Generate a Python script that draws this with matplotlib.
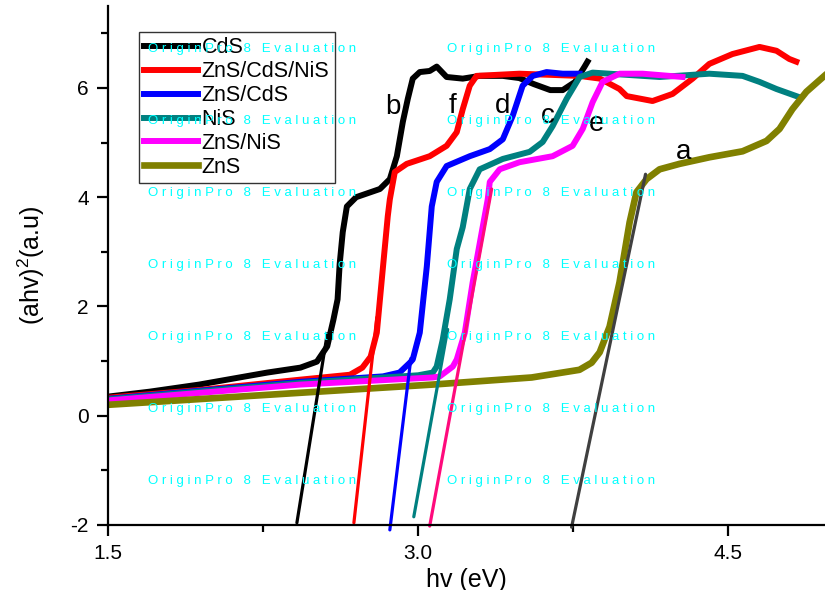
import matplotlib
matplotlib.use('Agg')
import matplotlib.pyplot as plt

plt.rcParams['font.family'] = ['Liberation Sans', 'DejaVu Sans']
plt.rcParams['mathtext.fontset'] = 'custom'
plt.rcParams['mathtext.rm'] = 'Liberation Sans'
plt.rcParams['mathtext.default'] = 'regular'
plt.rcParams['axes.unicode_minus'] = False

# Curvas de absorcao (hv, (ahv)^2)
cds_x = [1.50, 1.70, 1.94, 2.27, 2.43, 2.51, 2.56, 2.59, 2.61, 2.62, 2.635, 2.655, 2.70, 2.815, 2.863,
         2.897, 2.926, 2.95, 2.974, 3.008, 3.056, 3.09, 3.138, 3.216, 3.298, 3.41, 3.49, 3.56, 3.64,
         3.70, 3.76, 3.806, 3.82]
cds_y = [0.35, 0.44, 0.57, 0.79, 0.88, 0.99, 1.27, 1.76, 2.13, 2.77, 3.36, 3.83, 4.00, 4.15, 4.33,
         4.75, 5.38, 5.80, 6.17, 6.29, 6.31, 6.39, 6.20, 6.17, 6.22, 6.22, 6.18, 6.07, 5.96,
         5.96, 6.11, 6.39, 6.48]

zcn_x = [1.50, 1.94, 2.43, 2.67, 2.73, 2.77, 2.80, 2.83, 2.853, 2.863, 2.887, 2.945, 3.056, 3.138, 3.187,
         3.216, 3.25, 3.283, 3.49, 3.78, 3.88, 3.975, 4.01, 4.135, 4.232, 4.329, 4.41, 4.522, 4.653,
         4.735, 4.797, 4.831]
zcn_y = [0.33, 0.47, 0.66, 0.75, 0.88, 1.08, 1.52, 2.73, 3.65, 3.96, 4.46, 4.61, 4.75, 4.94, 5.19,
         5.61, 6.04, 6.22, 6.26, 6.22, 6.17, 5.98, 5.85, 5.76, 5.89, 6.17, 6.44, 6.62, 6.75,
         6.68, 6.53, 6.48]

zc_x = [1.50, 2.43, 2.83, 2.91, 2.96, 2.974, 3.008, 3.042, 3.066, 3.09, 3.138, 3.25, 3.347, 3.41,
        3.458, 3.506, 3.555, 3.622, 3.70, 3.782]
zc_y = [0.31, 0.62, 0.72, 0.79, 0.97, 1.03, 1.52, 2.73, 3.83, 4.28, 4.57, 4.75, 4.88, 5.06,
        5.49, 6.04, 6.22, 6.29, 6.26, 6.26]

nis_x = [1.50, 2.43, 3.00, 3.071, 3.09, 3.119, 3.153, 3.187, 3.216, 3.25, 3.298, 3.41, 3.54, 3.603,
         3.651, 3.719, 3.782, 3.845, 4.169, 4.41, 4.571, 4.653, 4.735, 4.846]
nis_y = [0.30, 0.60, 0.74, 0.79, 0.90, 1.39, 2.13, 3.05, 3.45, 4.15, 4.51, 4.70, 4.83, 5.01,
         5.30, 5.80, 6.20, 6.28, 6.20, 6.26, 6.22, 6.11, 5.98, 5.83]

zn_x = [1.50, 2.43, 3.071, 3.105, 3.168, 3.187, 3.226, 3.264, 3.308, 3.337, 3.347, 3.395, 3.491,
        3.651, 3.748, 3.797, 3.845, 3.893, 3.975, 4.087, 4.28]
zn_y = [0.28, 0.57, 0.70, 0.72, 0.90, 1.03, 1.52, 2.44, 3.36, 3.96, 4.28, 4.51, 4.64,
        4.75, 4.94, 5.25, 5.74, 6.11, 6.26, 6.26, 6.20]

zns_x = [1.50, 2.43, 3.07, 3.55, 3.781, 3.84, 3.879, 3.927, 3.975, 4.024, 4.057, 4.106, 4.169, 4.266,
         4.41, 4.571, 4.687, 4.75, 4.812, 4.88, 4.967]
zns_y = [0.20, 0.42, 0.57, 0.70, 0.84, 0.97, 1.16, 1.63, 2.44, 3.54, 4.09, 4.33, 4.51, 4.61,
         4.73, 4.84, 5.03, 5.25, 5.61, 5.93, 6.22]

# Retas de extrapolacao (Tauc)
fit_b = ([2.413, 2.560], [-1.96, 1.5])
fit_f = ([2.689, 2.800], [-1.96, 1.8])
fit_d = ([2.863, 2.965], [-2.09, 1.05])
fit_c = ([2.979, 3.143], [-1.85, 1.58])
fit_e = ([3.056, 3.356], [-2.02, 4.15])
fit_a = ([3.743, 4.101], [-2.04, 4.42])

# Letras das curvas
letras = ['b', 'f', 'd', 'c', 'e', 'a']
letras_x = [2.877, 3.168, 3.41, 3.627, 3.864, 4.285]
letras_y = [5.65, 5.67, 5.67, 5.49, 5.34, 4.83]

fig = plt.figure(figsize=(8.25, 5.9), dpi=100)
ax = fig.add_axes([0.1313, 0.1102, 0.8687, 0.8797])

ax.plot(cds_x, cds_y, color='black', lw=4.3, label='CdS')
ax.plot(zcn_x, zcn_y, color='#FF0000', lw=4.3, label='ZnS/CdS/NiS')
ax.plot(zc_x, zc_y, color='#0000FF', lw=4.3, label='ZnS/CdS')
ax.plot(nis_x, nis_y, color='#008080', lw=4.3, label='NiS')
ax.plot(zn_x, zn_y, color='#FF00FF', lw=4.3, label='ZnS/NiS')
ax.plot(zns_x, zns_y, color='#808000', lw=4.8, label='ZnS')

cores_fit = ['black', '#FF0000', '#0000FF', '#008080', '#FF0A7C', '#404040']
for (fx, fy), c in zip([fit_b, fit_f, fit_d, fit_c, fit_e, fit_a], cores_fit):
    ax.plot(fx, fy, color=c, lw=2.3, clip_on=False, solid_capstyle='round')

for t, lx, ly in zip(letras, letras_x, letras_y):
    ax.text(lx, ly, t, fontsize=20, ha='center', va='center')

ax.set_xlim(1.5, 4.97)
ax.set_ylim(-2, 7.5)
ax.set_xticks([1.5, 3.0, 4.5])
ax.set_xticks([2.25, 3.75], minor=True)
ax.set_yticks([-2, 0, 2, 4, 6])
ax.set_yticks([-1, 1, 3, 5, 7], minor=True)
ax.tick_params(which='major', direction='out', length=8, width=1.6, labelsize=15, pad=6)
ax.tick_params(which='minor', direction='out', length=5, width=1.6)
for s in ['top', 'right']:
    ax.spines[s].set_visible(False)
for s in ['left', 'bottom']:
    ax.spines[s].set_linewidth(1.6)

ax.set_xlabel('hv (eV)', fontsize=18, labelpad=3)
ax.set_ylabel('(ahv)$^{2}$(a.u)', fontsize=18, labelpad=17)

leg = ax.legend(loc='upper left', bbox_to_anchor=(139 / 825, 1 - 32 / 590),
                bbox_transform=fig.transFigure, borderaxespad=0, fontsize=15.5,
                handlelength=2.5, handletextpad=0.15, labelspacing=0.135,
                borderpad=0.25, fancybox=False, framealpha=1)
leg.get_frame().set_edgecolor('#333333')
leg.get_frame().set_linewidth(1.0)

# Marca d'agua da versao de avaliacao
marca = 'O r i g i n P r o   8   E v a l u a t i o n'
for py in [49, 121, 193, 265, 337, 409, 481]:
    for px in [148, 447]:
        fig.text(px / 825, 1 - py / 590, marca, color='#00FFFF', fontsize=9.5,
                 ha='left', va='center', zorder=10)

fig.savefig('out.png', dpi=100)
